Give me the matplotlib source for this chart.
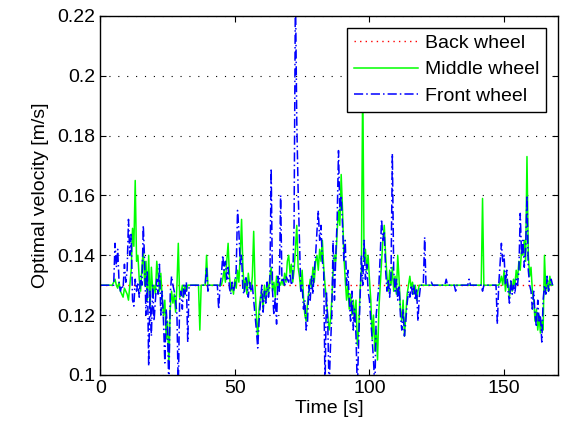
import numpy as np
import matplotlib.pyplot as plt

plt.rcParams['font.family'] = ['Liberation Sans', 'DejaVu Sans']

# time axis, 0.5 s samples from 0 to 168 s
t = np.arange(0, 168.5, 0.5)

# middle wheel, one row per 10 s
middle = (
    [0.13]*10 + [0.131, 0.132, 0.13, 0.129, 0.131, 0.128, 0.127, 0.126, 0.129, 0.128]
    + [0.127, 0.125, 0.13, 0.135, 0.149, 0.143, 0.165, 0.138, 0.14, 0.132, 0.128, 0.136, 0.142, 0.13, 0.138, 0.125, 0.14, 0.122, 0.136, 0.128]
    + [0.13, 0.127, 0.138, 0.133, 0.128, 0.134, 0.126, 0.12, 0.125, 0.112, 0.118, 0.103, 0.122, 0.128, 0.124, 0.127, 0.121, 0.13, 0.144, 0.126]
    + [0.127, 0.13, 0.126, 0.13, 0.128, 0.13, 0.13, 0.13, 0.13, 0.13, 0.13, 0.13, 0.13, 0.13, 0.115, 0.13, 0.13, 0.13, 0.13, 0.14]
    + [0.13]*11 + [0.132, 0.135, 0.131, 0.138, 0.144, 0.133, 0.128, 0.13, 0.127]
    + [0.132, 0.129, 0.135, 0.131, 0.14, 0.152, 0.136, 0.128, 0.132, 0.127, 0.134, 0.13, 0.128, 0.133, 0.148, 0.13, 0.12, 0.112, 0.122, 0.126]
    + [0.128, 0.122, 0.13, 0.125, 0.131, 0.127, 0.133, 0.136, 0.128, 0.131, 0.126, 0.133, 0.129, 0.131, 0.13, 0.132, 0.13, 0.134, 0.131, 0.138]
    + [0.14, 0.134, 0.137, 0.131, 0.135, 0.142, 0.15, 0.136, 0.133, 0.128, 0.135, 0.126, 0.12, 0.118, 0.124, 0.128, 0.132, 0.129, 0.136, 0.131]
    + [0.138, 0.14, 0.135, 0.142, 0.138, 0.145, 0.136, 0.13, 0.125, 0.12, 0.115, 0.118, 0.125, 0.135, 0.14, 0.138, 0.148, 0.155, 0.15, 0.167]
    + [0.155, 0.14, 0.132, 0.125, 0.13, 0.122, 0.127, 0.12, 0.125, 0.118, 0.125, 0.11, 0.115, 0.128, 0.135, 0.2, 0.138, 0.142, 0.135, 0.14]
    + [0.132, 0.125, 0.112, 0.12, 0.108, 0.115, 0.105, 0.122, 0.13, 0.138, 0.145, 0.15, 0.14, 0.133, 0.128, 0.135, 0.13, 0.136, 0.128, 0.133]
    + [0.127, 0.14, 0.132, 0.122, 0.118, 0.125, 0.113, 0.12, 0.127, 0.13, 0.133, 0.129, 0.131, 0.127, 0.13, 0.125, 0.128, 0.13, 0.13, 0.13]
    + [0.13]*20
    + [0.13]*20
    + [0.13]*4 + [0.159] + [0.13]*12 + [0.131, 0.133, 0.13]
    + [0.135, 0.128, 0.132, 0.13, 0.126, 0.131, 0.128, 0.132, 0.13, 0.135, 0.132, 0.138, 0.135, 0.142, 0.14, 0.145, 0.138, 0.173, 0.14, 0.133]
    + [0.136, 0.128, 0.125, 0.118, 0.122, 0.115, 0.12, 0.114, 0.118, 0.115, 0.14, 0.128, 0.132, 0.128, 0.133, 0.13, 0.13]
)

# front wheel
front = (
    [0.13]*11 + [0.144, 0.136, 0.142, 0.131, 0.128, 0.13, 0.129, 0.137, 0.131]
    + [0.135, 0.152, 0.14, 0.147, 0.125, 0.123, 0.132, 0.128, 0.131, 0.126, 0.133, 0.13, 0.15, 0.138, 0.12, 0.135, 0.103, 0.128, 0.113, 0.13]
    + [0.118, 0.125, 0.132, 0.127, 0.137, 0.12, 0.128, 0.118, 0.104, 0.122, 0.115, 0.095, 0.127, 0.133, 0.13, 0.128, 0.125, 0.12, 0.095, 0.125]
    + [0.128, 0.122, 0.13, 0.127, 0.131, 0.111, 0.13] + [0.13]*12 + [0.136]
    + [0.128, 0.13, 0.13, 0.13, 0.13, 0.13, 0.13, 0.13, 0.122, 0.13, 0.133, 0.14, 0.135, 0.138, 0.132, 0.136, 0.129, 0.127, 0.131, 0.128]
    + [0.13, 0.135, 0.155, 0.148, 0.137, 0.14, 0.128, 0.127, 0.133, 0.131, 0.126, 0.131, 0.128, 0.13, 0.125, 0.12, 0.115, 0.109, 0.118, 0.124]
    + [0.13, 0.121, 0.128, 0.124, 0.131, 0.126, 0.13, 0.169, 0.128, 0.12, 0.126, 0.117, 0.133, 0.128, 0.16, 0.131, 0.132, 0.13, 0.133, 0.132]
    + [0.131, 0.134, 0.13, 0.132, 0.15, 0.23, 0.185, 0.162, 0.145, 0.128, 0.13, 0.122, 0.125, 0.115, 0.118, 0.13, 0.125, 0.133, 0.127, 0.135]
    + [0.14, 0.148, 0.155, 0.145, 0.15, 0.138, 0.135, 0.095, 0.128, 0.118, 0.095, 0.109, 0.12, 0.145, 0.125, 0.14, 0.152, 0.175, 0.155, 0.16]
    + [0.15, 0.138, 0.145, 0.13, 0.135, 0.125, 0.118, 0.128, 0.115, 0.122, 0.113, 0.095, 0.112, 0.125, 0.14, 0.13, 0.145, 0.132, 0.137, 0.128]
    + [0.125, 0.118, 0.112, 0.105, 0.095, 0.12, 0.125, 0.13, 0.14, 0.152, 0.145, 0.148, 0.135, 0.128, 0.132, 0.126, 0.133, 0.174, 0.135, 0.128]
    + [0.132, 0.125, 0.13, 0.12, 0.115, 0.122, 0.113, 0.118, 0.124, 0.128, 0.126, 0.13, 0.127, 0.13, 0.125, 0.129, 0.118, 0.126, 0.13, 0.13]
    + [0.13, 0.146, 0.13, 0.13, 0.13, 0.13, 0.131, 0.13, 0.13, 0.13, 0.13, 0.13, 0.13, 0.13, 0.13, 0.13, 0.13, 0.132, 0.13, 0.13]
    + [0.13, 0.13, 0.13, 0.13, 0.128, 0.13, 0.13, 0.13, 0.13, 0.13, 0.13, 0.13, 0.13, 0.13, 0.132, 0.13, 0.13, 0.13, 0.13, 0.13]
    + [0.13, 0.13, 0.13, 0.13, 0.128, 0.13, 0.13, 0.13, 0.13, 0.13, 0.13, 0.13, 0.13, 0.13, 0.13, 0.117, 0.13, 0.137, 0.144, 0.138]
    + [0.14, 0.13, 0.135, 0.128, 0.124, 0.132, 0.127, 0.13, 0.127, 0.132, 0.13, 0.135, 0.154, 0.14, 0.145, 0.136, 0.142, 0.16, 0.135, 0.13]
    + [0.128, 0.122, 0.128, 0.12, 0.116, 0.125, 0.118, 0.12, 0.111, 0.125, 0.13, 0.127, 0.133, 0.128, 0.13, 0.132, 0.13]
)

# back wheel stays on the nominal value
back = [0.13] * len(t)

fig = plt.figure(figsize=(5.63, 4.30), dpi=100)
ax = fig.add_axes([0.178, 0.128, 0.813, 0.835])

ax.plot(t, back, color='red', lw=1, ls=(0, (1, 3)), label='Back wheel')
ax.plot(t, middle, color='#00ff00', lw=1.1, label='Middle wheel')
ax.plot(t, front, color='blue', lw=1.1, ls=(0, (6, 2, 1, 2)), label='Front wheel')

ax.set_xlim(0, 170)
ax.set_ylim(0.1, 0.22)
ax.set_xticks([0, 50, 100, 150])
ax.set_yticks(np.arange(0.1, 0.2201, 0.02))
ax.set_yticklabels(['0.1', '0.12', '0.14', '0.16', '0.18', '0.2', '0.22'])
ax.yaxis.grid(True, color='black', lw=0.8, ls=(0, (1, 7)))
ax.tick_params(direction='in', length=4, labelsize=14, top=True, right=True)
for s in ax.spines.values():
    s.set_linewidth(1)
ax.set_xlabel('Time [s]', fontsize=14, labelpad=2)
ax.set_ylabel('Optimal velocity [m/s]', fontsize=14, labelpad=6)

leg = ax.legend(loc='upper right', fontsize=14, fancybox=False, framealpha=1,
                edgecolor='black', handlelength=3.3, handletextpad=0.35,
                labelspacing=0.45, borderpad=0.35, borderaxespad=0.6)
leg.get_frame().set_linewidth(1)

fig.savefig('out.png', dpi=100)
